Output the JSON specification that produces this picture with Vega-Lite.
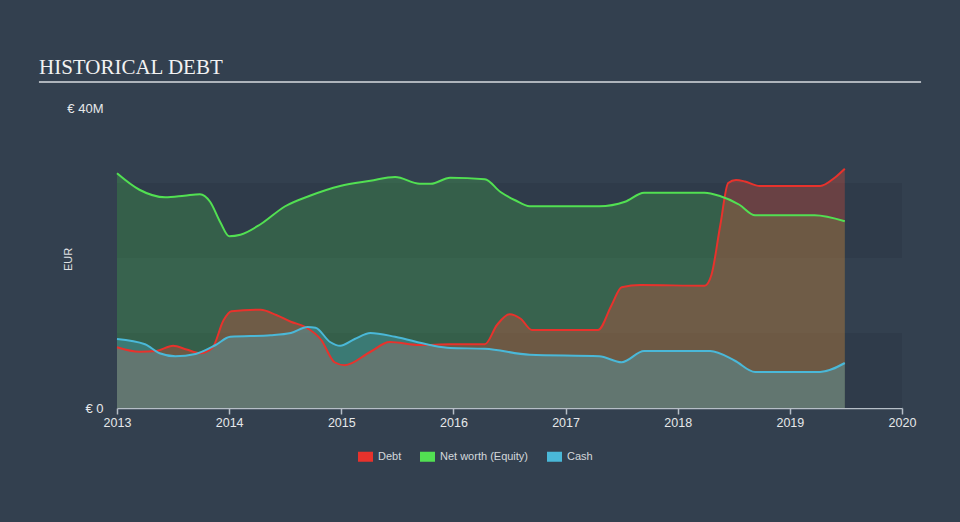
{
  "$schema": "https://vega.github.io/schema/vega-lite/v6.json",
  "width": 785,
  "height": 300,
  "autosize": "none",
  "padding": {"left": 117, "top": 108, "right": 58, "bottom": 114},
  "background": "#33404f",
  "title": {
    "text": "HISTORICAL DEBT",
    "anchor": "start",
    "frame": "group",
    "dx": -78,
    "dy": 20,
    "offset": 6,
    "font": "Liberation Serif",
    "fontSize": 21,
    "fontWeight": "normal",
    "color": "#f2f2f2",
    "baseline": "alphabetic"
  },
  "config": {
    "view": {"stroke": null},
    "font": "Liberation Sans"
  },
  "datasets": {
    "bands": [
      {"x0": 2013, "x1": 2020, "lo": 0, "hi": 10},
      {"x0": 2013, "x1": 2020, "lo": 20, "hi": 30}
    ],
    "fin": [
      {"year": 2013.0, "series": "Debt", "eur_m": 8.1},
      {"year": 2013.2, "series": "Debt", "eur_m": 7.5},
      {"year": 2013.35, "series": "Debt", "eur_m": 7.6},
      {"year": 2013.5, "series": "Debt", "eur_m": 8.3},
      {"year": 2013.62, "series": "Debt", "eur_m": 7.8},
      {"year": 2013.74, "series": "Debt", "eur_m": 7.3},
      {"year": 2013.85, "series": "Debt", "eur_m": 8.0},
      {"year": 2013.95, "series": "Debt", "eur_m": 11.7},
      {"year": 2014.02, "series": "Debt", "eur_m": 12.9},
      {"year": 2014.28, "series": "Debt", "eur_m": 13.1},
      {"year": 2014.42, "series": "Debt", "eur_m": 12.4},
      {"year": 2014.55, "series": "Debt", "eur_m": 11.5},
      {"year": 2014.68, "series": "Debt", "eur_m": 10.8},
      {"year": 2014.82, "series": "Debt", "eur_m": 9.1},
      {"year": 2014.94, "series": "Debt", "eur_m": 6.1},
      {"year": 2015.03, "series": "Debt", "eur_m": 5.7},
      {"year": 2015.26, "series": "Debt", "eur_m": 7.5},
      {"year": 2015.43, "series": "Debt", "eur_m": 8.8},
      {"year": 2015.7, "series": "Debt", "eur_m": 8.4},
      {"year": 2015.97, "series": "Debt", "eur_m": 8.5},
      {"year": 2016.28, "series": "Debt", "eur_m": 8.5},
      {"year": 2016.39, "series": "Debt", "eur_m": 11.1},
      {"year": 2016.5, "series": "Debt", "eur_m": 12.5},
      {"year": 2016.6, "series": "Debt", "eur_m": 11.9},
      {"year": 2016.7, "series": "Debt", "eur_m": 10.4},
      {"year": 2017.29, "series": "Debt", "eur_m": 10.4},
      {"year": 2017.41, "series": "Debt", "eur_m": 13.7},
      {"year": 2017.5, "series": "Debt", "eur_m": 16.1},
      {"year": 2017.67, "series": "Debt", "eur_m": 16.4},
      {"year": 2018.24, "series": "Debt", "eur_m": 16.3},
      {"year": 2018.3, "series": "Debt", "eur_m": 17.7},
      {"year": 2018.38, "series": "Debt", "eur_m": 24.4},
      {"year": 2018.45, "series": "Debt", "eur_m": 30.0},
      {"year": 2018.52, "series": "Debt", "eur_m": 30.4},
      {"year": 2018.6, "series": "Debt", "eur_m": 30.2},
      {"year": 2018.73, "series": "Debt", "eur_m": 29.6},
      {"year": 2019.27, "series": "Debt", "eur_m": 29.6},
      {"year": 2019.4, "series": "Debt", "eur_m": 30.7},
      {"year": 2019.49, "series": "Debt", "eur_m": 31.9},

      {"year": 2013.0, "series": "Net worth (Equity)", "eur_m": 31.3},
      {"year": 2013.2, "series": "Net worth (Equity)", "eur_m": 29.1},
      {"year": 2013.43, "series": "Net worth (Equity)", "eur_m": 28.1},
      {"year": 2013.6, "series": "Net worth (Equity)", "eur_m": 28.3},
      {"year": 2013.74, "series": "Net worth (Equity)", "eur_m": 28.5},
      {"year": 2013.83, "series": "Net worth (Equity)", "eur_m": 27.5},
      {"year": 2013.92, "series": "Net worth (Equity)", "eur_m": 24.8},
      {"year": 2014.0, "series": "Net worth (Equity)", "eur_m": 22.9},
      {"year": 2014.1, "series": "Net worth (Equity)", "eur_m": 23.1},
      {"year": 2014.28, "series": "Net worth (Equity)", "eur_m": 24.5},
      {"year": 2014.5, "series": "Net worth (Equity)", "eur_m": 26.9},
      {"year": 2014.72, "series": "Net worth (Equity)", "eur_m": 28.3},
      {"year": 2014.99, "series": "Net worth (Equity)", "eur_m": 29.6},
      {"year": 2015.26, "series": "Net worth (Equity)", "eur_m": 30.3},
      {"year": 2015.48, "series": "Net worth (Equity)", "eur_m": 30.8},
      {"year": 2015.7, "series": "Net worth (Equity)", "eur_m": 29.9},
      {"year": 2015.8, "series": "Net worth (Equity)", "eur_m": 29.9},
      {"year": 2015.97, "series": "Net worth (Equity)", "eur_m": 30.7},
      {"year": 2016.28, "series": "Net worth (Equity)", "eur_m": 30.5},
      {"year": 2016.42, "series": "Net worth (Equity)", "eur_m": 28.8},
      {"year": 2016.55, "series": "Net worth (Equity)", "eur_m": 27.7},
      {"year": 2016.68, "series": "Net worth (Equity)", "eur_m": 26.9},
      {"year": 2017.3, "series": "Net worth (Equity)", "eur_m": 26.9},
      {"year": 2017.53, "series": "Net worth (Equity)", "eur_m": 27.5},
      {"year": 2017.7, "series": "Net worth (Equity)", "eur_m": 28.7},
      {"year": 2018.24, "series": "Net worth (Equity)", "eur_m": 28.7},
      {"year": 2018.37, "series": "Net worth (Equity)", "eur_m": 28.3},
      {"year": 2018.55, "series": "Net worth (Equity)", "eur_m": 27.1},
      {"year": 2018.69, "series": "Net worth (Equity)", "eur_m": 25.7},
      {"year": 2019.22, "series": "Net worth (Equity)", "eur_m": 25.7},
      {"year": 2019.49, "series": "Net worth (Equity)", "eur_m": 24.9},

      {"year": 2013.0, "series": "Cash", "eur_m": 9.2},
      {"year": 2013.25, "series": "Cash", "eur_m": 8.5},
      {"year": 2013.38, "series": "Cash", "eur_m": 7.3},
      {"year": 2013.52, "series": "Cash", "eur_m": 6.9},
      {"year": 2013.7, "series": "Cash", "eur_m": 7.2},
      {"year": 2013.88, "series": "Cash", "eur_m": 8.4},
      {"year": 2014.01, "series": "Cash", "eur_m": 9.5},
      {"year": 2014.37, "series": "Cash", "eur_m": 9.7},
      {"year": 2014.55, "series": "Cash", "eur_m": 10.0},
      {"year": 2014.7, "series": "Cash", "eur_m": 10.8},
      {"year": 2014.77, "series": "Cash", "eur_m": 10.7},
      {"year": 2014.9, "series": "Cash", "eur_m": 8.8},
      {"year": 2014.99, "series": "Cash", "eur_m": 8.3},
      {"year": 2015.12, "series": "Cash", "eur_m": 9.2},
      {"year": 2015.26, "series": "Cash", "eur_m": 10.0},
      {"year": 2015.48, "series": "Cash", "eur_m": 9.5},
      {"year": 2015.79, "series": "Cash", "eur_m": 8.4},
      {"year": 2015.97, "series": "Cash", "eur_m": 8.0},
      {"year": 2016.28, "series": "Cash", "eur_m": 7.9},
      {"year": 2016.68, "series": "Cash", "eur_m": 7.1},
      {"year": 2017.3, "series": "Cash", "eur_m": 6.9},
      {"year": 2017.5, "series": "Cash", "eur_m": 6.1},
      {"year": 2017.7, "series": "Cash", "eur_m": 7.6},
      {"year": 2018.29, "series": "Cash", "eur_m": 7.6},
      {"year": 2018.51, "series": "Cash", "eur_m": 6.3},
      {"year": 2018.69, "series": "Cash", "eur_m": 4.8},
      {"year": 2019.27, "series": "Cash", "eur_m": 4.8},
      {"year": 2019.49, "series": "Cash", "eur_m": 6.0}
    ]
  },
  "layer": [
    {
      "data": {"name": "bands"},
      "mark": {"type": "rect", "fill": "#2f3b4a"},
      "encoding": {
        "x": {"field": "x0", "type": "quantitative", "scale": {"domain": [2013, 2020], "nice": false, "zero": false},
          "axis": {"values": [2013, 2014, 2015, 2016, 2017, 2018, 2019, 2020], "format": "d", "title": null,
            "grid": false, "domainColor": "#b6bec7", "domainWidth": 1.5, "tickColor": "#b6bec7", "tickSize": 6, "tickWidth": 1.5,
            "labelColor": "#e6e8ea", "labelFontSize": 12.5, "labelPadding": 2, "labelFlush": false}},
        "x2": {"field": "x1"},
        "y": {"field": "lo", "type": "quantitative", "scale": {"domain": [0, 40], "nice": false},
          "axis": {"values": [0, 40], "labelExpr": "datum.value == 0 ? '€ 0' : '€ ' + datum.value + 'M'",
            "title": "EUR", "titleColor": "#e0e2e4", "titleFontSize": 11, "titleFontWeight": "normal",
            "titleX": -49, "titleY": 151, "titleAngle": -90, "titleBaseline": "middle", "titleAlign": "center",
            "grid": false, "domain": false, "ticks": false, "labelPadding": 14,
            "labelColor": "#e6e8ea", "labelFontSize": 13}},
        "y2": {"field": "hi"}
      }
    },
    {
      "data": {"name": "fin"},
      "transform": [{"filter": "datum.series == 'Net worth (Equity)'"}],
      "mark": {"type": "area", "interpolate": "monotone", "fill": "#4cd44c", "fillOpacity": 0.24},
      "encoding": {
        "x": {"field": "year", "type": "quantitative"},
        "y": {"field": "eur_m", "type": "quantitative"}
      }
    },
    {
      "data": {"name": "fin"},
      "transform": [{"filter": "datum.series == 'Debt'"}],
      "mark": {"type": "area", "interpolate": "monotone", "fill": "#e0503a", "fillOpacity": 0.33},
      "encoding": {
        "x": {"field": "year", "type": "quantitative"},
        "y": {"field": "eur_m", "type": "quantitative"}
      }
    },
    {
      "data": {"name": "fin"},
      "transform": [{"filter": "datum.series == 'Cash'"}],
      "mark": {"type": "area", "interpolate": "monotone", "fill": "#4ab8d8", "fillOpacity": 0.3},
      "encoding": {
        "x": {"field": "year", "type": "quantitative"},
        "y": {"field": "eur_m", "type": "quantitative"}
      }
    },
    {
      "data": {"name": "fin"},
      "mark": {"type": "line", "interpolate": "monotone", "strokeWidth": 2},
      "encoding": {
        "x": {"field": "year", "type": "quantitative"},
        "y": {"field": "eur_m", "type": "quantitative"},
        "color": {"field": "series", "type": "nominal",
          "scale": {"domain": ["Debt", "Net worth (Equity)", "Cash"], "range": ["#e8322c", "#52e052", "#4ab8d8"]},
          "legend": {"title": null, "orient": "none", "direction": "horizontal", "legendX": 243, "legendY": 343,
            "symbolType": "M-1.5,-1H1.5V1H-1.5Z", "symbolSize": 100, "symbolStrokeWidth": 0, "symbolOpacity": 1,
            "labelColor": "#d4d8dc", "labelFontSize": 11, "labelOffset": 7, "columnPadding": 18,
            "encode": {"symbols": {"update": {"fill": {"scale": "color", "field": "value"}, "fillOpacity": {"value": 1}, "strokeWidth": {"value": 0}}}}}}
      }
    },
    {
      "data": {"values": [{}]},
      "mark": {"type": "rule", "stroke": "#aeb4bb", "strokeWidth": 2},
      "encoding": {
        "x": {"datum": 2012.304},
        "x2": {"datum": 2020.17},
        "y": {"datum": 43.47}
      }
    }
  ]
}
